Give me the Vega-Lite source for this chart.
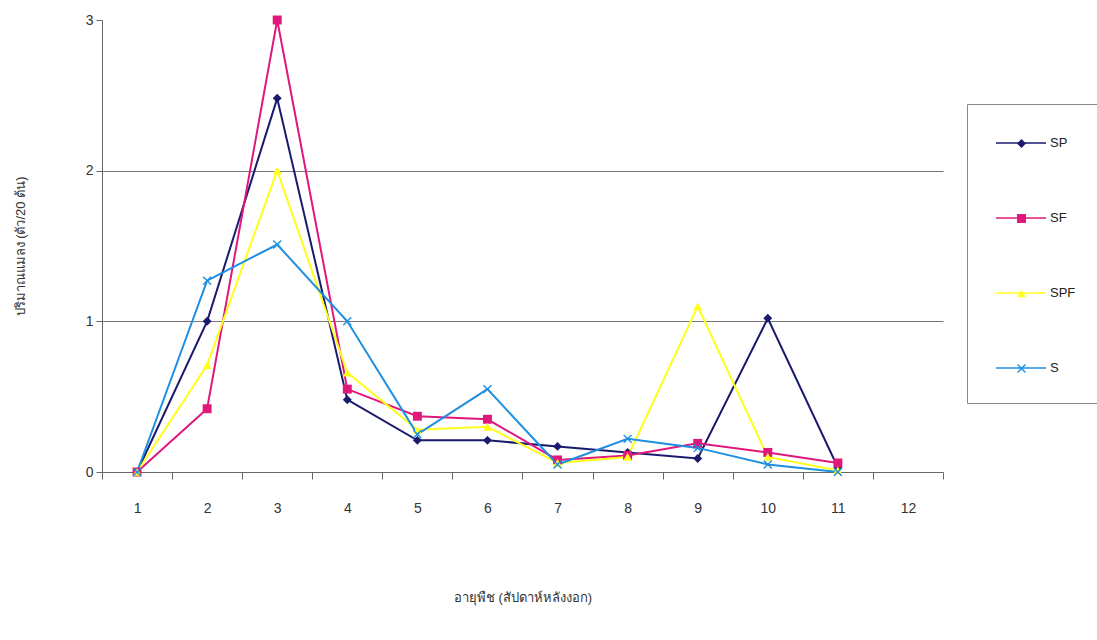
{
  "$schema": "https://vega.github.io/schema/vega-lite/v6.json",
  "width": 841,
  "height": 452,
  "autosize": "none",
  "padding": {"left": 102, "top": 20, "right": 154, "bottom": 168},
  "background": "white",
  "config": {"view": {"stroke": null}, "font": "Liberation Sans"},
  "data": {"values": [
    {"week": 1, "series": "SP", "value": 0},
    {"week": 2, "series": "SP", "value": 1.0},
    {"week": 3, "series": "SP", "value": 2.48},
    {"week": 4, "series": "SP", "value": 0.48},
    {"week": 5, "series": "SP", "value": 0.21},
    {"week": 6, "series": "SP", "value": 0.21},
    {"week": 7, "series": "SP", "value": 0.17},
    {"week": 8, "series": "SP", "value": 0.13},
    {"week": 9, "series": "SP", "value": 0.09},
    {"week": 10, "series": "SP", "value": 1.02},
    {"week": 11, "series": "SP", "value": 0.03},
    {"week": 1, "series": "SF", "value": 0},
    {"week": 2, "series": "SF", "value": 0.42},
    {"week": 3, "series": "SF", "value": 3.0},
    {"week": 4, "series": "SF", "value": 0.55},
    {"week": 5, "series": "SF", "value": 0.37},
    {"week": 6, "series": "SF", "value": 0.35},
    {"week": 7, "series": "SF", "value": 0.08},
    {"week": 8, "series": "SF", "value": 0.11},
    {"week": 9, "series": "SF", "value": 0.19},
    {"week": 10, "series": "SF", "value": 0.13},
    {"week": 11, "series": "SF", "value": 0.06},
    {"week": 1, "series": "SPF", "value": 0},
    {"week": 2, "series": "SPF", "value": 0.71},
    {"week": 3, "series": "SPF", "value": 2.0},
    {"week": 4, "series": "SPF", "value": 0.66},
    {"week": 5, "series": "SPF", "value": 0.28},
    {"week": 6, "series": "SPF", "value": 0.3},
    {"week": 7, "series": "SPF", "value": 0.06},
    {"week": 8, "series": "SPF", "value": 0.1},
    {"week": 9, "series": "SPF", "value": 1.1},
    {"week": 10, "series": "SPF", "value": 0.1},
    {"week": 11, "series": "SPF", "value": 0.01},
    {"week": 1, "series": "S", "value": 0},
    {"week": 2, "series": "S", "value": 1.27},
    {"week": 3, "series": "S", "value": 1.51},
    {"week": 4, "series": "S", "value": 1.0},
    {"week": 5, "series": "S", "value": 0.25},
    {"week": 6, "series": "S", "value": 0.55},
    {"week": 7, "series": "S", "value": 0.05},
    {"week": 8, "series": "S", "value": 0.22},
    {"week": 9, "series": "S", "value": 0.16},
    {"week": 10, "series": "S", "value": 0.05},
    {"week": 11, "series": "S", "value": 0.0}
  ]},
  "encoding": {
    "x": {
      "field": "week", "type": "ordinal",
      "scale": {"type": "band", "domain": [1,2,3,4,5,6,7,8,9,10,11,12], "paddingInner": 0, "paddingOuter": 0},
      "axis": {
        "title": "อายุพืช (สัปดาห์หลังงอก)", "labelAngle": 0, "tickBand": "extent", "grid": false,
        "domainColor": "#666", "tickColor": "#666", "tickSize": 7, "labelPadding": 22,
        "labelFontSize": 14, "labelColor": "#333", "titleFontSize": 13, "titleFontWeight": "normal",
        "titleColor": "#333", "titlePadding": 76
      }
    },
    "y": {
      "field": "value", "type": "quantitative",
      "scale": {"domain": [0, 3]},
      "axis": {
        "values": [0, 1, 2, 3], "title": "ปริมาณแมลง (ตัว/20 ต้น)",
        "domainColor": "#666", "tickColor": "#666", "tickSize": 6, "labelPadding": 3,
        "labelFontSize": 14, "labelColor": "#333", "titleFontSize": 13, "titleFontWeight": "normal",
        "titleColor": "#333", "titlePadding": 58,
        "grid": true, "gridColor": "#777", "gridWidth": 1,
        "gridOpacity": {"condition": {"test": "datum.value == 3 || datum.value == 0", "value": 0}, "value": 1}
      }
    }
  },
  "layer": [
    {
      "mark": {"type": "line", "strokeWidth": 2},
      "encoding": {
        "stroke": {
          "field": "series", "type": "nominal",
          "scale": {"range": ["#1e8fe0", "#e0187c", "#1a1a6e", "#ffff1a"]},
          "legend": {
            "orient": "none", "legendX": 865, "legendY": 84, "values": ["SP", "SF", "SPF", "S"],
            "title": null, "symbolType": "M-1,0H4", "symbolSize": 400, "symbolStrokeWidth": 1.5,
            "labelFontSize": 13, "labelOffset": 33, "rowPadding": 57, "padding": 28,
            "strokeColor": "#888", "labelColor": "#222", "zindex": 0
          }
        }
      }
    },
    {
      "mark": {"type": "point", "filled": true, "size": 80, "opacity": 1},
      "encoding": {
        "color": {
          "field": "series", "type": "nominal",
          "scale": {"domain": ["SP", "SF", "SPF", "S"], "range": ["#1a1a6e", "#e0187c", "#ffff1a", "#1e8fe0"]},
          "legend": {
            "orient": "none", "legendX": 885, "legendY": 89, "title": null,
            "symbolSize": 80, "symbolStrokeWidth": 0, "labelFontSize": 13, "labelOffset": 0,
            "rowPadding": 61, "padding": 28, "labelExpr": "''", "zindex": 1
          }
        },
        "shape": {
          "field": "series", "type": "nominal",
          "scale": {"domain": ["SP", "SF", "SPF", "S"], "range": ["diamond", "square", "triangle-up", "M-1,-0.78L-0.78,-1L0,-0.22L0.78,-1L1,-0.78L0.22,0L1,0.78L0.78,1L0,0.22L-0.78,1L-1,0.78L-0.22,0Z"]}
        }
      }
    }
  ]
}
